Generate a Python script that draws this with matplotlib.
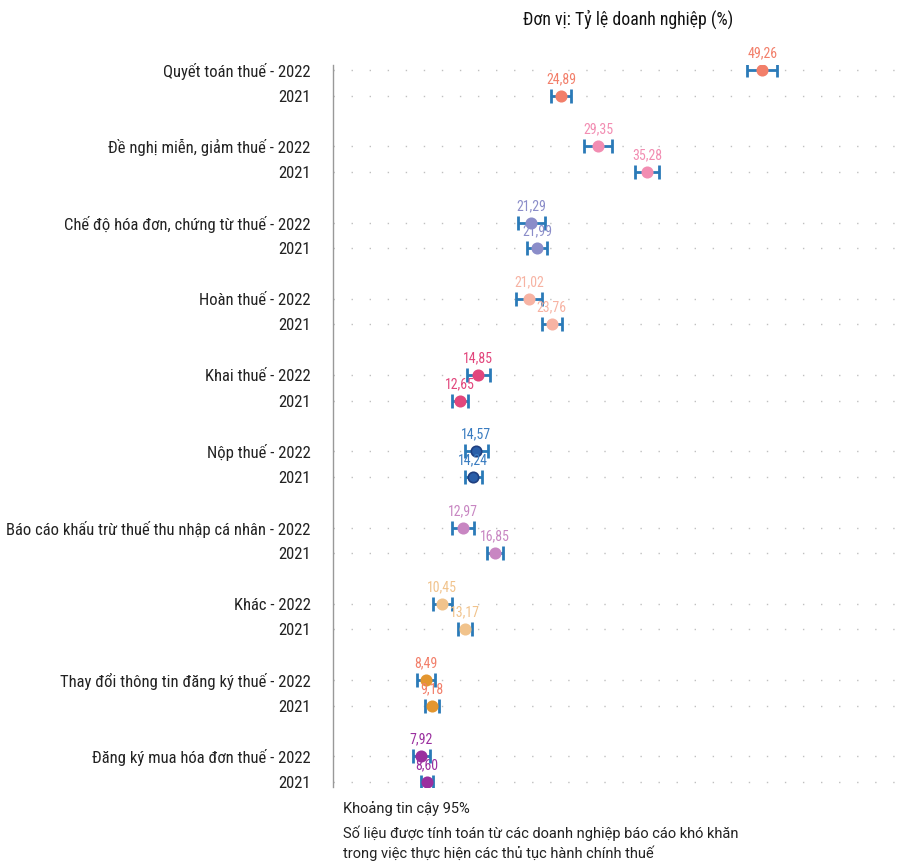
import numpy as np
import matplotlib.pyplot as plt

# data
categories = ["Quyết toán thuế", "Đề nghị miễn, giảm thuế", "Chế độ hóa đơn, chứng từ thuế",
              "Hoàn thuế", "Khai thuế", "Nộp thuế",
              "Báo cáo khấu trừ thuế thu nhập cá nhân", "Khác",
              "Thay đổi thông tin đăng ký thuế", "Đăng ký mua hóa đơn thuế"]
val_2022 = [49.26, 29.35, 21.29, 21.02, 14.85, 14.57, 12.97, 10.45, 8.49, 7.92]
val_2021 = [24.89, 35.28, 21.99, 23.76, 12.65, 14.24, 16.85, 13.17, 9.18, 8.60]
ci_2022 = [1.8, 1.7, 1.6, 1.6, 1.4, 1.4, 1.3, 1.15, 1.1, 1.05]
ci_2021 = [1.2, 1.45, 1.2, 1.25, 1.0, 1.0, 1.0, 0.85, 0.85, 0.75]
dot_colors = ["#F27F6A", "#F28DB2", "#8B8DC9", "#F7B3A3", "#E2467C",
              "#2A5EA8", "#C886C2", "#F1C38C", "#E3962F", "#9A2F9F"]
label_colors = ["#F27F6A", "#F28DB2", "#8B8DC9", "#F7B3A3", "#E2467C",
                "#3A7CC0", "#C886C2", "#F1C38C", "#F27F6A", "#9A2F9F"]

cond = ["Roboto Condensed", "Liberation Sans Narrow", "Roboto", "DejaVu Sans"]
bar_color = "#2A7AB8"

fig = plt.figure(figsize=(9.02, 8.61), dpi=100)
ax = fig.add_axes([0.369, 0.086, 0.629, 0.8385])

n = len(categories)
y22 = np.arange(n) * 3
y21 = y22 + 1

for i in range(n):
    for y, v, c in [(y22[i], val_2022[i], ci_2022[i]), (y21[i], val_2021[i], ci_2021[i])]:
        ax.axhline(y, color="#c0c0c0", lw=1.0, ls=(0, (1, 12)), zorder=0)
        ax.errorbar(v, y, xerr=c, fmt="none", ecolor=bar_color, elinewidth=2,
                    capsize=5, capthick=2, zorder=2)
        mec = "#1f3f80" if i == 5 else dot_colors[i]
        ax.plot(v, y, "o", ms=7.5, color=dot_colors[i], mec=mec, mew=1.2, zorder=3)
        ax.text(v, y - 0.38, f"{v:.2f}".replace(".", ","), ha="center", va="bottom",
                fontsize=10, color=label_colors[i], family=cond)

ax.set_xlim(-2.8, 66)
ax.set_ylim(28.2, -0.2)
ax.set_xticks([])
ax.set_yticks(list(y22) + list(y21))
ax.set_yticklabels([f"{c} - 2022" for c in categories] + ["2021"] * n,
                   fontsize=12, family=cond, color="#222222")
ax.tick_params(axis="y", length=0, pad=16)
for s in ["top", "right", "bottom"]:
    ax.spines[s].set_visible(False)
ax.spines["left"].set_color("#999999")
ax.spines["left"].set_linewidth(1)

fig.text(0.58, 0.978, "Đơn vị: Tỷ lệ doanh nghiệp (%)", ha="left", va="center",
         fontsize=12.8, family=cond, color="#111111")
fig.text(0.380, 0.061, "Khoảng tin cậy 95%", fontsize=10.5, family="Roboto",
         color="#222222", va="center")
fig.text(0.380, 0.032, "Số liệu được tính toán từ các doanh nghiệp báo cáo khó khăn",
         fontsize=10.5, family="Roboto", color="#222222", va="center")
fig.text(0.380, 0.009, "trong việc thực hiện các thủ tục hành chính thuế",
         fontsize=10.5, family="Roboto", color="#222222", va="center")

fig.savefig("out.png", dpi=100)
